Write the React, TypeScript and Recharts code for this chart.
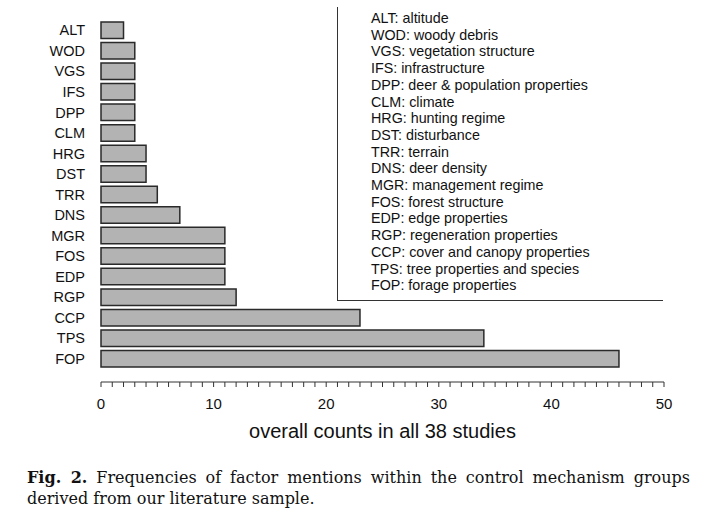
import React from 'react';
import { BarChart, Bar, XAxis, YAxis, Label } from 'recharts';

// factor codes, top to bottom
const codes = ['ALT', 'WOD', 'VGS', 'IFS', 'DPP', 'CLM', 'HRG', 'DST', 'TRR', 'DNS', 'MGR', 'FOS', 'EDP', 'RGP', 'CCP', 'TPS', 'FOP'];
const counts = [2, 3, 3, 3, 3, 3, 4, 4, 5, 7, 11, 11, 11, 12, 23, 34, 46];

const descriptions = [
  'ALT: altitude',
  'WOD: woody debris',
  'VGS: vegetation structure',
  'IFS: infrastructure',
  'DPP: deer & population properties',
  'CLM: climate',
  'HRG: hunting regime',
  'DST: disturbance',
  'TRR: terrain',
  'DNS: deer density',
  'MGR: management regime',
  'FOS: forest structure',
  'EDP: edge properties',
  'RGP: regeneration properties',
  'CCP: cover and canopy properties',
  'TPS: tree properties and species',
  'FOP: forage properties',
];

const xLabels = [0, 10, 20, 30, 40, 50];
const xMax = 50;
// minor tick every unit
const xTicks = Array.from({ length: xMax + 1 }, (_, i) => i);

const data = codes.map((code, i) => ({ code, count: counts[i] }));

const sans = '"Liberation Sans", Arial, sans-serif';

export default function App() {
  return (
    <div style={{ position: 'absolute', left: 0, top: 0, width: 705, height: 517, background: '#fff', overflow: 'hidden' }}>
      <BarChart
        width={705}
        height={450}
        data={data}
        layout="vertical"
        margin={{ top: 20, right: 41, left: 0, bottom: 12 }}
      >
        <XAxis
          type="number"
          domain={[0, xMax]}
          ticks={xTicks}
          interval={0}
          tickFormatter={(v) => (xLabels.includes(v) ? String(v) : '')}
          axisLine={{ stroke: '#333', strokeWidth: 1 }}
          tickLine={{ stroke: '#333', strokeWidth: 1 }}
          tickSize={5}
          tickMargin={11}
          height={56}
          tick={{ fill: '#111', fontSize: 15, fontFamily: sans }}
        >
          <Label
            value="overall counts in all 38 studies"
            position="insideBottom"
            offset={0}
            style={{ fill: '#111', fontSize: 20, fontFamily: sans }}
          />
        </XAxis>
        <YAxis
          type="category"
          dataKey="code"
          width={101}
          axisLine={false}
          tickLine={false}
          tickSize={0}
          tickMargin={16}
          interval={0}
          padding={{ top: 0, bottom: 13 }}
          tick={{ fill: '#111', fontSize: 14.5, fontFamily: sans }}
        />
        <Bar
          dataKey="count"
          fill="#b3b3b3"
          stroke="#2a2a2a"
          strokeWidth={1.5}
          barSize={16.5}
          isAnimationActive={false}
        />
      </BarChart>

      <div
        style={{
          position: 'absolute',
          left: 337,
          top: 7,
          width: 326,
          height: 294,
          borderLeft: '1px solid #333',
          borderBottom: '1px solid #333',
          boxSizing: 'border-box',
          paddingTop: 3,
          paddingLeft: 33,
          fontFamily: sans,
          fontSize: 14.3,
          lineHeight: '16.7px',
          color: '#111',
        }}
      >
        {descriptions.map((d) => (
          <div key={d} style={{ whiteSpace: 'nowrap' }}>{d}</div>
        ))}
      </div>

      <div
        style={{
          position: 'absolute',
          left: 27,
          top: 467,
          width: 663,
          fontFamily: '"DejaVu Serif", serif',
          fontSize: 16,
          lineHeight: '21px',
          color: '#111',
        }}
      >
        <div style={{ textAlign: 'justify', textAlignLast: 'justify', whiteSpace: 'nowrap' }}>
          <b>Fig. 2.</b> Frequencies of factor mentions within the control mechanism groups
        </div>
        <div>derived from our literature sample.</div>
      </div>
    </div>
  );
}
